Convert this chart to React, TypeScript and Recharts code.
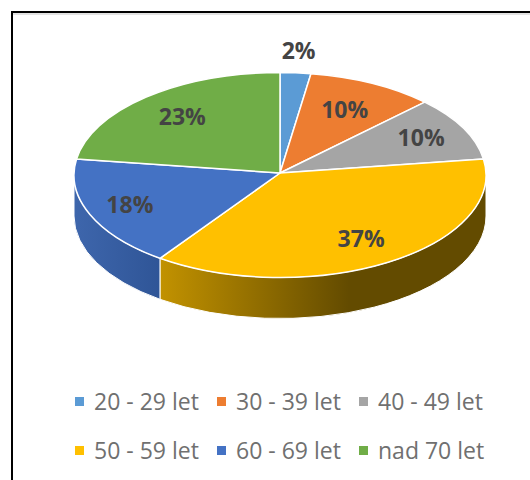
import React from 'react';
import { PieChart, Pie, Legend } from 'recharts';

const categories = ['20 - 29 let', '30 - 39 let', '40 - 49 let', '50 - 59 let', '60 - 69 let', 'nad 70 let'];
const shares = [2.4, 10, 10.1, 37.4, 17.6, 22.5];
const colors = ['#5B9BD5', '#ED7D31', '#A5A5A5', '#FFC000', '#4472C4', '#70AD47'];
const labelRadius = [1.2, 0.7, 0.77, 0.75, 0.79, 0.73];

const data = categories.map((name, i) => ({ name, value: shares[i], fill: colors[i] }));

const FONT = '"Open Sans", "Noto Sans", sans-serif';
const SQUASH = 0.4976; // ellipse ry / rx
const DEPTH = 41;
const HUB_LIFT = 2;

const point = (cx: number, cy: number, r: number, deg: number) => {
  const a = (deg * Math.PI) / 180;
  return [cx + r * Math.cos(a), cy - r * SQUASH * Math.sin(a)];
};

const TopSlice = (props: any) => {
  const { cx, cy, outerRadius: r, startAngle, endAngle, fill } = props;
  const [x1, y1] = point(cx, cy, r, startAngle);
  const [x2, y2] = point(cx, cy, r, endAngle);
  const large = Math.abs(startAngle - endAngle) > 180 ? 1 : 0;
  return (
    <path
      d={`M${cx},${cy - HUB_LIFT}L${x1},${y1}A${r},${r * SQUASH} 0 ${large} 1 ${x2},${y2}Z`}
      fill={fill}
      stroke="#fff"
      strokeWidth={1.5}
      strokeLinejoin="round"
    />
  );
};

// side wall, only the part of the rim that faces the viewer
const WallSlice = (props: any) => {
  const { cx, cy, outerRadius: r, startAngle, endAngle, index } = props;
  const from = Math.min(startAngle, 0);
  const to = Math.max(endAngle, -180);
  if (from <= to) return null;
  const [x1, y1] = point(cx, cy, r, from);
  const [x2, y2] = point(cx, cy, r, to);
  const ry = r * SQUASH;
  return (
    <path
      d={`M${x1},${y1}A${r},${ry} 0 0 1 ${x2},${y2}L${x2},${y2 + DEPTH}A${r},${ry} 0 0 0 ${x1},${y1 + DEPTH}Z`}
      fill={`url(#wall-${index})`}
      stroke="#fff"
      strokeWidth={1}
    />
  );
};

const renderLabel = (props: any) => {
  const { cx, cy, outerRadius: r, midAngle, percent, index } = props;
  const [x, y] = point(cx, cy, r * labelRadius[index], midAngle);
  return (
    <text
      x={x}
      y={y - HUB_LIFT}
      textAnchor="middle"
      dominantBaseline="central"
      fill="#444"
      fontFamily={FONT}
      fontSize={23}
      fontWeight={700}
    >
      {`${Math.round(percent * 100)}%`}
    </text>
  );
};

// both pies report legend items, the wall pie's are marked type none
const LegendGrid = ({ payload }: any) => {
  const items = (payload || []).filter((item: any) => item.type !== 'none');
  return (
    <div style={{ display: 'grid', gridTemplateColumns: 'repeat(3, 142px)', rowGap: 19 }}>
      {items.map((item: any) => (
        <div key={item.value} style={{ display: 'flex', alignItems: 'center', height: 30 }}>
          <span style={{ width: 9, height: 9, background: item.color, marginRight: 10, flex: 'none' }} />
          <span style={{ fontFamily: FONT, fontSize: 23, color: '#707070', whiteSpace: 'nowrap' }}>
            {item.value}
          </span>
        </div>
      ))}
    </div>
  );
};

export default function App() {
  return (
    <div style={{ position: 'absolute', left: 0, top: 0, width: 530, height: 480, overflow: 'hidden', background: '#fff' }}>
      <div style={{ position: 'absolute', left: 11, top: 11, right: -10, bottom: -10, borderLeft: '2px solid #000', borderTop: '2px solid #000' }} />
      <div style={{ position: 'absolute', left: 13, top: 13, right: 0, height: 2, background: '#e2e2e2' }} />
      <div style={{ position: 'absolute', left: 0, top: 0 }}>
        <PieChart width={530} height={480} margin={{ top: 0, right: 0, bottom: 0, left: 0 }}>
          <defs>
            <linearGradient id="wall-3" x1="0" y1="0" x2="1" y2="0">
              <stop offset="0" stopColor="#C29200" />
              <stop offset="0.58" stopColor="#634B00" />
              <stop offset="1" stopColor="#634B00" />
            </linearGradient>
            <linearGradient id="wall-4" x1="0" y1="0" x2="1" y2="0">
              <stop offset="0" stopColor="#3E66AC" />
              <stop offset="1" stopColor="#2F5597" />
            </linearGradient>
          </defs>
          <Pie
            data={data}
            dataKey="value"
            nameKey="name"
            cx={280}
            cy={175}
            outerRadius={206}
            startAngle={90}
            endAngle={-270}
            legendType="none"
            shape={WallSlice}
            stroke="none"
            isAnimationActive={false}
          />
          <Pie
            data={data}
            dataKey="value"
            nameKey="name"
            cx={280}
            cy={175}
            outerRadius={206}
            startAngle={90}
            endAngle={-270}
            shape={TopSlice}
            label={renderLabel}
            labelLine={false}
            isAnimationActive={false}
          />
          <Legend
            content={<LegendGrid />}
            wrapperStyle={{ position: 'absolute', left: 75, top: 386, width: 440, bottom: 'auto' }}
          />
        </PieChart>
      </div>
    </div>
  );
}
